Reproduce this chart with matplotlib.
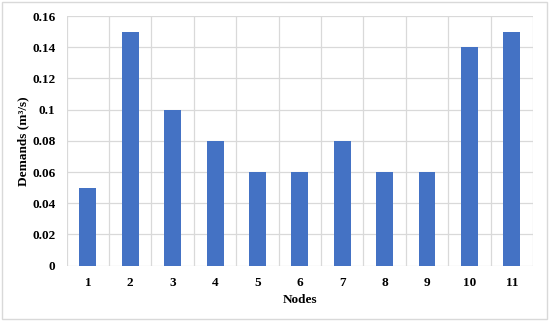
import matplotlib.pyplot as plt
import numpy as np
from matplotlib.patches import Rectangle

# Данные: потребление в узлах
nodes = ["1", "2", "3", "4", "5", "6", "7", "8", "9", "10", "11"]
demands = [0.05, 0.15, 0.10, 0.08, 0.06, 0.06, 0.08, 0.06, 0.06, 0.14, 0.15]
y_ticks = [0, 0.02, 0.04, 0.06, 0.08, 0.1, 0.12, 0.14, 0.16]
y_tick_labels = ["0", "0.02", "0.04", "0.06", "0.08", "0.1", "0.12", "0.14", "0.16"]

plt.rcParams['font.family'] = ['Liberation Serif', 'DejaVu Serif']
plt.rcParams['font.weight'] = 'bold'

fig = plt.figure(figsize=(5.5, 3.22), dpi=100)
ax = fig.add_axes([0.1213, 0.175, 0.8477, 0.775])

x = np.arange(len(nodes))
grid_color = "#d9d9d9"

# вертикальные линии сетки на границах категорий
for b in np.arange(len(nodes) + 1) - 0.5:
    ax.axvline(b, color=grid_color, lw=0.9, zorder=0)
for t in y_ticks:
    ax.axhline(t, color=grid_color, lw=0.9, zorder=0)

ax.bar(x, demands, width=0.4, color="#4472C4", zorder=2)

ax.set_xlim(-0.5, len(nodes) - 0.5)
ax.set_ylim(0, 0.16)
ax.set_xticks(x)
ax.set_xticklabels(nodes)
ax.set_yticks(y_ticks)
ax.set_yticklabels(y_tick_labels)
ax.tick_params(length=0, labelsize=9.5, pad=8)
for s in ax.spines.values():
    s.set_visible(False)

ax.set_xlabel("Nodes", fontsize=9.5, fontweight='bold', labelpad=4)
ax.set_ylabel("Demands (m³/s)", fontsize=9.5, fontweight='bold', labelpad=2)

# рамка вокруг всей диаграммы
fig.patches.append(Rectangle((0.004, 0.009), 0.99, 0.984, transform=fig.transFigure,
                             fill=False, edgecolor=grid_color, lw=1.0))

fig.savefig("out.png", dpi=100)
